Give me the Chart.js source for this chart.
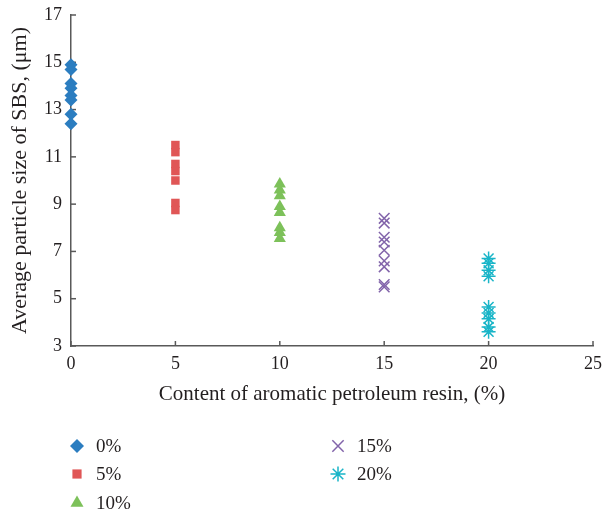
<!DOCTYPE html>
<html>
<head>
<meta charset="utf-8">
<script src="https://cdn.jsdelivr.net/npm/chart.js@4.4.0/dist/chart.umd.min.js"></script>
<style>
  html, body { margin: 0; padding: 0; background: #fff; }
</style>
</head>
<body>
<canvas id="chart" width="603" height="515"></canvas>
<script>
// resin content (x) for each series
const contents = [0, 5, 10, 15, 20];
const seriesLabels = ['0%', '5%', '10%', '15%', '20%'];

// average particle size readings, µm
const size0 = [14.9, 14.7, 14.1, 13.9, 13.6, 13.4, 12.8, 12.4];
const size5 = [11.5, 11.2, 10.7, 10.4, 10.0, 9.05, 8.75];
const size10 = [9.85, 9.6, 9.35, 8.9, 8.65, 8.0, 7.8, 7.55];
const size15 = [8.4, 8.2, 7.6, 7.4, 7.05, 6.6, 6.35, 5.6, 5.5];
const size20 = [6.7, 6.5, 6.2, 5.95, 4.65, 4.4, 4.15, 3.8, 3.6];

const xTicks = [0, 5, 10, 15, 20, 25];
const yTicks = [3, 5, 7, 9, 11, 13, 15, 17];

const colors = ['#2b7dc0', '#e05656', '#7dc15a', '#8264aa', '#19b5c8'];
const styles = ['rectRot', 'rect', 'triangle', 'crossRot', 'star'];
const radii = [6.5, 6, 7, 7.5, 7];

const allSizes = [size0, size5, size10, size15, size20];
const serif = "'Liberation Serif', 'DejaVu Serif', serif";
const textColor = '#231f20';
const axisColor = '#595959';

const datasets = allSizes.map((vals, i) => ({
    label: seriesLabels[i],
    data: vals.map(v => ({ x: contents[i], y: v })),
    pointStyle: styles[i],
    pointRadius: radii[i],
    pointHoverRadius: radii[i],
    backgroundColor: colors[i],
    borderColor: colors[i],
    pointBorderWidth: (styles[i] === 'crossRot' || styles[i] === 'star') ? 1.5 : 0,
    showLine: false,
    clip: false
}));

// tick marks pointing into the plot
const innerTicks = {
    id: 'innerTicks',
    beforeDatasetsDraw(chart) {
        const { ctx, scales: { x, y }, chartArea } = chart;
        ctx.save();
        ctx.strokeStyle = axisColor;
        ctx.lineWidth = 1.5;
        xTicks.forEach(v => {
            const px = x.getPixelForValue(v);
            ctx.beginPath();
            ctx.moveTo(px, chartArea.bottom);
            ctx.lineTo(px, chartArea.bottom - 5);
            ctx.stroke();
        });
        yTicks.forEach(v => {
            const py = y.getPixelForValue(v);
            ctx.beginPath();
            ctx.moveTo(chartArea.left, py);
            ctx.lineTo(chartArea.left + 5, py);
            ctx.stroke();
        });
        ctx.restore();
    }
};

// two-column legend under the axis title
const legendBelow = {
    id: 'legendBelow',
    afterDraw(chart) {
        const c = chart.ctx;
        const cols = [77, 338];
        const rows = [446, 474, 503];
        c.save();
        c.textBaseline = 'middle';
        chart.data.datasets.forEach((ds, i) => {
            const cx = cols[i < 3 ? 0 : 1];
            const cy = rows[i < 3 ? i : i - 3];
            c.fillStyle = ds.backgroundColor;
            c.strokeStyle = ds.borderColor;
            c.lineWidth = ds.pointBorderWidth;
            Chart.helpers.drawPoint(c, {
                pointStyle: ds.pointStyle,
                radius: ds.pointRadius + 0.5,
                borderWidth: ds.pointBorderWidth,
                rotation: 0
            }, cx, cy);
            c.font = '19px ' + serif;
            c.fillStyle = textColor;
            c.fillText(ds.label, cx + 19, cy + 1);
        });
        c.restore();
    }
};

const ctx = document.getElementById('chart').getContext('2d');

new Chart(ctx, {
    type: 'scatter',
    data: { datasets: datasets },
    plugins: [innerTicks, legendBelow],
    options: {
        responsive: false,
        animation: false,
        layout: { padding: { left: 0, right: 10, top: 15, bottom: 99 } },
        plugins: {
            legend: { display: false },
            tooltip: { enabled: false }
        },
        scales: {
            x: {
                type: 'linear',
                min: 0,
                max: 25,
                afterFit(scale) {
                    scale.height = 70;
                    scale.paddingRight = 0;
                    scale.paddingLeft = 0;
                },
                afterBuildTicks(scale) { scale.ticks = xTicks.map(v => ({ value: v })); },
                ticks: { font: { family: serif, size: 18 }, color: textColor, padding: 7 },
                grid: { display: false, drawTicks: false },
                border: { color: axisColor, width: 1.5 },
                title: {
                    display: true,
                    text: 'Content of aromatic petroleum resin, (%)',
                    font: { family: serif, size: 21 },
                    color: textColor,
                    padding: { top: 4, bottom: 9 }
                }
            },
            y: {
                min: 3,
                max: 17,
                afterFit(scale) {
                    scale.width = 71;
                    scale.paddingTop = 0;
                    scale.paddingBottom = 0;
                },
                afterBuildTicks(scale) { scale.ticks = yTicks.map(v => ({ value: v })); },
                ticks: { font: { family: serif, size: 18 }, color: textColor, padding: 9 },
                grid: { display: false, drawTicks: false },
                border: { color: axisColor, width: 1.5 },
                title: {
                    display: true,
                    text: 'Average particle size of SBS, (μm)',
                    font: { family: serif, size: 22 },
                    color: textColor,
                    padding: { top: 7, bottom: 4 }
                }
            }
        }
    }
});
</script>
</body>
</html>
